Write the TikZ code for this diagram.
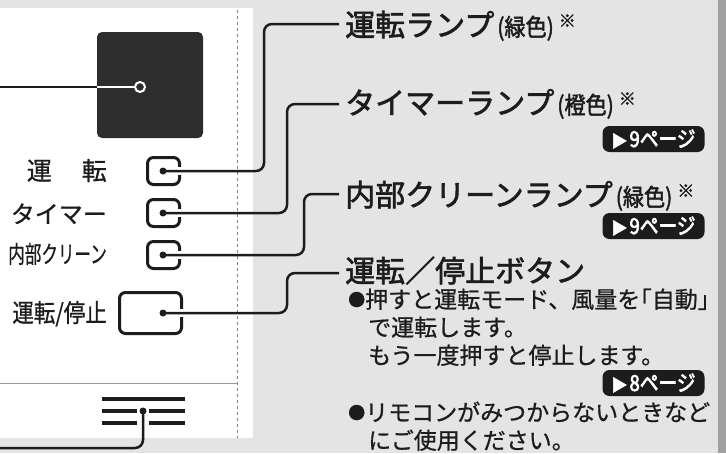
\documentclass[tikz,border=0pt]{standalone}
\usepackage{fontspec}
\usepackage{graphicx}
\setmainfont{Noto Sans CJK JP}[FakeBold=0.8]
\newfontfamily\titlefont{Noto Sans CJK JP}[FakeBold=2]
\newfontfamily\jphalt{Noto Sans CJK JP}[RawFeature=+halt,FakeBold=0.8]
\newfontfamily\badgefont{Noto Sans CJK JP}[FakeBold=3]
\definecolor{panelgray}{HTML}{E4E4E4}
\definecolor{edgegray}{HTML}{A0A0A0}
\definecolor{ink}{HTML}{1C1C1C}
\definecolor{screen}{HTML}{2D2D2D}
\newcommand\parenpart[1]{\hspace{3pt}\scalebox{0.88}[1]{\fontsize{24}{24}\selectfont #1}}
\newcommand\komemark{\hspace{5pt}\raisebox{9pt}{\fontsize{17}{17}\selectfont ※}}
\newcommand\bulletmark{\raisebox{2pt}{\fontsize{17}{17}\selectfont ●}}
\begin{document}
\begin{tikzpicture}[x=1pt,y=-1pt,
  conn/.style={draw=ink,line width=2.5pt,rounded corners=8pt},
  halo/.style={draw=white,line width=8pt},
  lampbox/.style={draw=ink,line width=3pt,rounded corners=6pt,minimum width=32pt,minimum height=27pt,inner sep=0pt},
  btnbox/.style={draw=ink,line width=3pt,rounded corners=6pt,minimum width=62pt,minimum height=41pt,inner sep=0pt},
  dotmark/.style={fill=ink,circle,inner sep=0pt,minimum size=7pt},
  title/.style={anchor=base west,inner sep=0pt,text=ink,font=\titlefont\fontsize{30}{30}\selectfont},
  body/.style={anchor=base west,inner sep=0pt,text=ink,font=\fontsize{23}{23}\selectfont},
  leftlabel/.style={anchor=base east,inner sep=0pt,text=ink},
  badge/.style={fill=ink,rounded corners=7pt,minimum width=102pt,minimum height=26pt,inner sep=0pt,text=white,font=\badgefont\fontsize{22}{22}\selectfont},
  iconline/.style={draw=ink,line width=4pt}
]
\useasboundingbox (0,0) rectangle (726,453);
% backgrounds
\fill[white] (0,0) rectangle (726,453);
\fill[panelgray] (253,0) rectangle (726,453);
\fill[panelgray] (0,0) rectangle (253,8);
\fill[panelgray] (0,438) rectangle (253,453);
\fill[edgegray] (718,0) rectangle (726,453);
\draw[gray,dashed,line width=0.8pt] (237,10) -- (237,438);
\draw[gray!80,line width=1pt] (0,383) -- (237,383);

% display screen
\node[fill=screen,rounded corners=5pt,minimum width=106pt,minimum height=106pt,inner sep=0pt] (screen) at (150,85) {};
\coordinate (scrdot) at (140,87);
\coordinate (scrend) at (0,87);
\draw[ink,line width=2.5pt] (scrend) -- (97,87);
\draw[white,line width=2.5pt] (97,87) -- (scrdot);
\node[circle,draw=white,fill=screen,line width=2pt,minimum size=10pt,inner sep=0pt] (scrring) at (scrdot) {};

% left labels
\node[leftlabel,font=\fontsize{25}{25}\selectfont] (lab1) at (107,180) {運\hspace{30pt}転};
\node[leftlabel,font=\fontsize{24}{24}\selectfont] (lab2) at (107,223) {タイマー};
\node[leftlabel,font=\fontsize{24}{24}\selectfont] (lab3) at (107,263) {\scalebox{0.69}[1]{内部クリーン}};
\node[leftlabel,font=\fontsize{25}{25}\selectfont] (lab4) at (107,322) {\scalebox{0.86}[1]{運転/停止}};

% lamps and button
\node[lampbox] (lamp1) at (163.5,171) {};
\node[lampbox] (lamp2) at (163.5,213) {};
\node[lampbox] (lamp3) at (163.5,255) {};
\node[btnbox] (btn) at (150.5,313) {};
\coordinate (d1) at (163,171);
\coordinate (d2) at (163,213);
\coordinate (d3) at (163,255);
\coordinate (d4) at (163,313);
\draw[halo] (d1) -- ++(24,0);
\draw[halo] (d2) -- ++(24,0);
\draw[halo] (d3) -- ++(24,0);
\draw[halo] (d4) -- ++(24,0);

% titles
\node[title] (t1) at (345,36) {運転ランプ\parenpart{(緑色)}\komemark};
\node[title] (t2) at (345,114) {タイマーランプ\parenpart{(橙色)}\komemark};
\node[title] (t3) at (345,206) {内部クリーンランプ\parenpart{(緑色)}\komemark};
\node[title] (t4) at (345,282) {運転／停止ボタン};

% connectors
\coordinate (e1) at (339,24);
\coordinate (e2) at (339,104);
\coordinate (e3) at (339,194);
\coordinate (e4) at (339,273);
\coordinate (v1) at (264,100);
\coordinate (v2) at (287,160);
\coordinate (v3) at (304,225);
\coordinate (v4) at (287,292);
\draw[conn] (d1) -| (v1) |- (e1);
\draw[conn] (d2) -| (v2) |- (e2);
\draw[conn] (d3) -| (v3) |- (e3);
\draw[conn] (d4) -| (v4) |- (e4);
\node[dotmark] (dot1) at (d1) {};
\node[dotmark] (dot2) at (d2) {};
\node[dotmark] (dot3) at (d3) {};
\node[dotmark] (dot4) at (d4) {};

% badges
\node[badge] (bd1) at (653.5,139) {{\fontsize{16}{16}\selectfont ▶}\hspace{2pt}\scalebox{0.85}[1]{9ページ}};
\node[badge] (bd2) at (653.5,226) {{\fontsize{16}{16}\selectfont ▶}\hspace{2pt}\scalebox{0.85}[1]{9ページ}};
\node[badge] (bd3) at (653.5,383) {{\fontsize{16}{16}\selectfont ▶}\hspace{2pt}\scalebox{0.85}[1]{8ページ}};

% body text
\node[body] (b1) at (348,308) {\bulletmark 押すと運転モード、風量を{\jphalt 「}自動{\jphalt 」}};
\node[body] (b2) at (368,336) {で運転します。};
\node[body] (b3) at (368,364) {もう一度押すと停止します。};
\node[body] (b4) at (348,421) {\bulletmark リモコンがみつからないときなど};
\node[body] (b5) at (368,449) {にご使用ください。};

% bottom icon
\draw[iconline] (102,399) -- (185,399);
\draw[iconline] (102,411) -- (137,411);
\draw[iconline] (149,411) -- (185,411);
\draw[iconline] (102,423) -- (137,423);
\draw[iconline] (149,423) -- (185,423);
\coordinate (icodot) at (143,411);
\coordinate (icoend) at (0,448);
\draw[conn] (icodot) |- (icoend);
\node[dotmark] (dot5) at (icodot) {};
\end{tikzpicture}
\end{document}
